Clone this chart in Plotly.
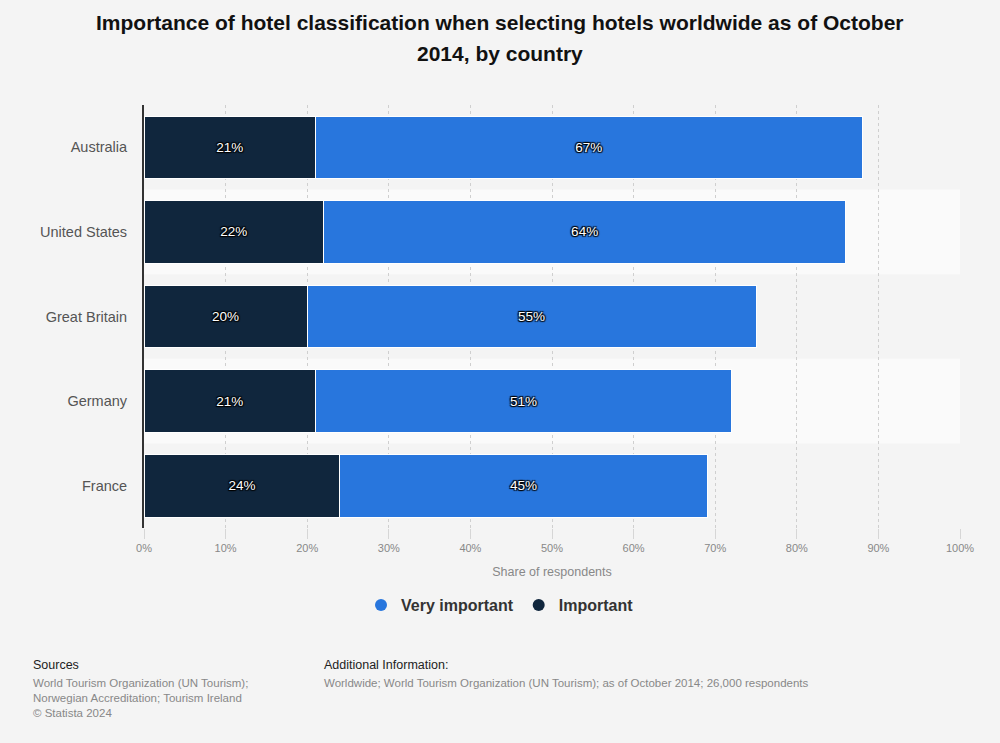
import plotly.graph_objects as go

countries = ["Australia", "United States", "Great Britain", "Germany", "France"]
important = [21, 22, 20, 21, 24]
very_important = [67, 64, 55, 51, 45]
x_ticks = [0, 10, 20, 30, 40, 50, 60, 70, 80, 90, 100]
x_tick_labels = [f"{t}%" for t in x_ticks]

DARK = "#10263d"
BLUE = "#2876dd"
BG = "#f4f4f4"
FONT = "Liberation Sans"

PLOT_L, PLOT_R = 144, 960
PLOT_T, PLOT_B = 105, 528
PLOT_W = PLOT_R - PLOT_L
PLOT_H = PLOT_B - PLOT_T


def py(px):
    """convert a pixel y position to paper coordinates"""
    return 1 - (px - PLOT_T) / PLOT_H


def px_(x):
    """convert a pixel x position to paper coordinates"""
    return (x - PLOT_L) / PLOT_W


fig = go.Figure()

# alternating row bands
for i, c in enumerate(countries):
    if i % 2 == 1:
        fig.add_shape(type="rect", xref="paper", yref="y", x0=0, x1=1,
                      y0=i - 0.5, y1=i + 0.5, fillcolor="#fafafa",
                      line_width=0, layer="below")

label_font = dict(family=FONT, size=13.5, color="white",
                  shadow="1px 1px 1px #000, -1px -1px 1px #000, 1px -1px 1px #000, -1px 1px 1px #000")

fig.add_trace(go.Bar(
    y=countries, x=important, orientation="h", name="Important",
    marker=dict(color=DARK, line=dict(color="white", width=1)),
    text=[f"{v}%" for v in important], textposition="inside",
    insidetextanchor="middle", textfont=label_font, showlegend=False,
    hoverinfo="x+y"))
fig.add_trace(go.Bar(
    y=countries, x=very_important, orientation="h", name="Very important",
    marker=dict(color=BLUE, line=dict(color="white", width=1)),
    text=[f"{v}%" for v in very_important], textposition="inside",
    insidetextanchor="middle", textfont=label_font, showlegend=False,
    hoverinfo="x+y"))

# legend entries with circle markers
fig.add_trace(go.Scatter(x=[None], y=[None], mode="markers", name="Very important",
                         marker=dict(color=BLUE, size=17, symbol="circle")))
fig.add_trace(go.Scatter(x=[None], y=[None], mode="markers", name="Important",
                         marker=dict(color=DARK, size=17, symbol="circle")))

fig.update_layout(
    width=1000, height=743,
    paper_bgcolor=BG, plot_bgcolor=BG,
    barmode="stack", bargap=0.26,
    margin=dict(l=PLOT_L, r=1000 - PLOT_R, t=PLOT_T, b=743 - PLOT_B),
    font=dict(family=FONT, color="#333"),
    xaxis=dict(range=[0, 100], tickvals=x_ticks, ticktext=x_tick_labels,
               showgrid=True, gridcolor="#cfcfcf", griddash="dot", gridwidth=1,
               zeroline=False, showline=False,
               ticks="outside", ticklen=10, tickcolor="#d6d6d6",
               tickfont=dict(family=FONT, size=11, color="#888"),
               title=dict(text="Share of respondents", standoff=14,
                          font=dict(family=FONT, size=12.5, color="#888"))),
    yaxis=dict(categoryorder="array", categoryarray=countries, autorange="reversed",
               showgrid=False, showline=True, linecolor="#333", linewidth=2,
               ticks="outside", ticklen=12, tickcolor="rgba(0,0,0,0)",
               tickfont=dict(family=FONT, size=14.5, color="#555")),
    legend=dict(orientation="h", x=px_(500), xanchor="center", y=py(605), yanchor="middle",
                traceorder="normal",
                font=dict(family=FONT, size=16, color="#333", weight="bold"),
                itemsizing="constant", bgcolor="rgba(0,0,0,0)"),
)

title_font = dict(family=FONT, size=21, color="#111", weight="bold")
fig.add_annotation(text="Importance of hotel classification when selecting hotels worldwide as of October",
                   xref="paper", yref="paper", x=px_(500), y=py(22), xanchor="center", yanchor="middle",
                   showarrow=False, font=title_font)
fig.add_annotation(text="2014, by country",
                   xref="paper", yref="paper", x=px_(500), y=py(54), xanchor="center", yanchor="middle",
                   showarrow=False, font=title_font)

LEFT1 = px_(31)
LEFT2 = px_(322)
fig.add_annotation(text="Sources", xref="paper", yref="paper", x=LEFT1, y=py(665),
                   xanchor="left", yanchor="middle", showarrow=False, align="left",
                   font=dict(family=FONT, size=12.5, color="#222"))
fig.add_annotation(text="World Tourism Organization (UN Tourism);<br>Norwegian Accreditation; Tourism Ireland<br>© Statista 2024",
                   xref="paper", yref="paper", x=LEFT1, y=py(675),
                   xanchor="left", yanchor="top", showarrow=False, align="left",
                   font=dict(family=FONT, size=11.5, color="#888"))
fig.add_annotation(text="Additional Information:", xref="paper", yref="paper", x=LEFT2, y=py(665),
                   xanchor="left", yanchor="middle", showarrow=False, align="left",
                   font=dict(family=FONT, size=12.5, color="#222"))
fig.add_annotation(text="Worldwide; World Tourism Organization (UN Tourism); as of October 2014; 26,000 respondents",
                   xref="paper", yref="paper", x=LEFT2, y=py(675),
                   xanchor="left", yanchor="top", showarrow=False, align="left",
                   font=dict(family=FONT, size=11.5, color="#888"))

fig.write_html("out.html", config={"displayModeBar": False},
               post_script="document.body.style.margin='0';document.body.style.background='#f4f4f4';")
